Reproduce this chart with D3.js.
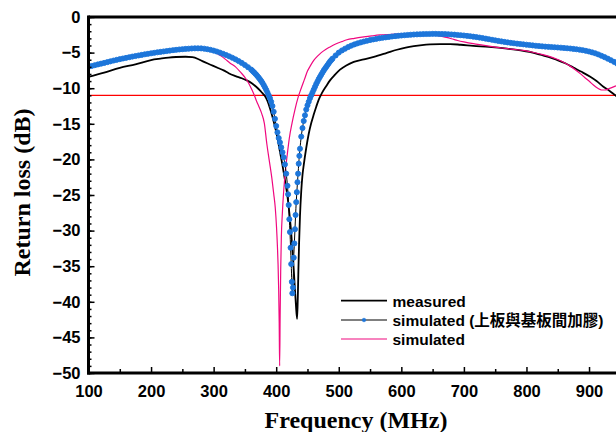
<!DOCTYPE html>
<html><head><meta charset="utf-8">
<script src="https://cdn.jsdelivr.net/npm/d3@7"></script>
<style>body{margin:0;background:#fff}svg{display:block}</style>
</head><body><svg id="c" width="616" height="432"></svg>
<script>
// ---------- data ----------
const xTickValues = [100,200,300,400,500,600,700,800,900];
const xMinorTicks = [150,250,350,450,550,650,750,850,950];
const yTickValues = [0,-5,-10,-15,-20,-25,-30,-35,-40,-45,-50];
const yMinorTicks = d3.range(0,-51,-1);
const refLineDb = -11;
const legendLabels = ["measured","simulated (上板與基板間加膠)","simulated"];
const axisTitles = {x:"Frequency (MHz)", y:"Return loss (dB)"};

const measured = [[100,-8.4],[125,-7.8],[150,-7.15],[175,-6.65],[200,-6.05],[215,-5.85],[228,-5.7],[240,-5.62],[255,-5.58],[266,-5.65],[275,-5.9],[282,-6.2],[295,-6.7],[308,-7.2],[316,-7.5],[324,-7.9],[335,-8.3],[345,-8.6],[353,-8.9],[361,-9.3],[368,-9.8],[374,-10.3],[378,-10.7],[382,-11.1],[386,-11.8],[390,-12.8],[394,-14.0],[398,-15.4],[402,-17.0],[406,-18.9],[410,-20.8],[414,-22.9],[418,-25.2],[421,-27.5],[424,-30.3],[427,-34.0],[429.5,-37.6],[431.5,-40.4],[433.4,-42.4],[434.5,-39.5],[435.5,-35.5],[436.5,-32.0],[438,-28.0],[440,-24.5],[442,-22.2],[444,-20.8],[448,-18.4],[452,-16.4],[456,-14.9],[460,-13.7],[464,-12.6],[468,-11.6],[473,-10.7],[480,-9.7],[486,-8.9],[494,-8.1],[502,-7.4],[512,-6.8],[524,-6.3],[540,-5.95],[556,-5.6],[575,-5.1],[593,-4.6],[607,-4.3],[620,-4.1],[633,-3.95],[646,-3.85],[662,-3.8],[678,-3.8],[695,-3.9],[715,-4.05],[740,-4.2],[769,-4.45],[795,-4.75],[810,-5.0],[822,-5.3],[835,-5.6],[848,-6.0],[862,-6.5],[875,-7.1],[888,-7.7],[902,-8.4],[912,-9.0],[923,-9.8],[933,-10.4],[942,-11.0],[950,-11.5]];

const simulatedGlue = [[100,-7.00],[105,-6.88],[110,-6.77],[115,-6.66],[120,-6.55],[125,-6.45],[130,-6.34],[135,-6.23],[140,-6.12],[145,-6.02],[150,-5.92],[155,-5.83],[160,-5.74],[165,-5.65],[170,-5.56],[175,-5.48],[180,-5.40],[185,-5.32],[190,-5.24],[195,-5.17],[200,-5.10],[205,-5.03],[210,-4.96],[215,-4.90],[220,-4.84],[225,-4.78],[230,-4.72],[235,-4.66],[240,-4.61],[245,-4.56],[250,-4.52],[255,-4.48],[260,-4.45],[265,-4.42],[270,-4.40],[275,-4.40],[280,-4.41],[285,-4.45],[290,-4.52],[295,-4.61],[300,-4.72],[305,-4.85],[310,-5.00],[315,-5.16],[320,-5.34],[325,-5.53],[330,-5.73],[335,-5.95],[340,-6.19],[345,-6.45],[350,-6.74],[355,-7.05],[360,-7.38],[362,-7.55],[364,-7.72],[366,-7.90],[368,-8.09],[370,-8.30],[372,-8.51],[374,-8.74],[376,-8.98],[378,-9.25],[380,-9.55],[382,-9.88],[384,-10.22],[386,-10.6],[388,-11.0],[390,-11.4],[392,-11.9],[394,-12.5],[396,-13.3],[398,-14.3],[400,-15.3],[402,-16.2],[404,-17.0],[406,-17.6],[408,-18.3],[410,-19.0],[412,-19.7],[414,-20.7],[416,-22.0],[418,-23.7],[419,-24.9],[420,-26.4],[421,-28.4],[422,-30.2],[423,-32.4],[424,-34.7],[425,-37.2],[425.8,-38.8],[426.8,-38.0],[428,-33.8],[429,-31.8],[430,-29.8],[431,-27.8],[432,-26.0],[433,-24.6],[434,-23.2],[435,-22.0],[436,-20.6],[437,-19.5],[438,-18.5],[440,-16.8],[442,-15.6],[444,-14.6],[446,-13.8],[448,-13.0],[450,-12.4],[452,-11.9],[454,-11.4],[456,-11.0],[458,-10.6],[460,-10.2],[462,-9.8],[464,-9.4],[466,-9.05],[468,-8.7],[470,-8.4],[472,-8.1],[474,-7.8],[476,-7.5],[478,-7.25],[480,-7.0],[482,-6.75],[484,-6.5],[486,-6.25],[488,-6.05],[490,-5.85],[495,-5.4],[500,-5.0],[505,-4.7],[510,-4.45],[515,-4.22],[520,-4.02],[525,-3.85],[530,-3.7],[535,-3.57],[540,-3.45],[545,-3.34],[550,-3.24],[555,-3.15],[560,-3.07],[565,-2.99],[570,-2.92],[575,-2.86],[580,-2.8],[585,-2.74],[590,-2.69],[595,-2.64],[600,-2.6],[605,-2.56],[610,-2.52],[615,-2.49],[620,-2.46],[625,-2.44],[630,-2.42],[635,-2.4],[640,-2.39],[645,-2.38],[650,-2.37],[655,-2.37],[660,-2.38],[665,-2.39],[670,-2.4],[675,-2.42],[680,-2.45],[685,-2.48],[690,-2.52],[695,-2.56],[700,-2.6],[705,-2.65],[710,-2.7],[715,-2.76],[720,-2.82],[725,-2.89],[730,-2.96],[735,-3.04],[740,-3.12],[745,-3.2],[750,-3.28],[755,-3.36],[760,-3.43],[765,-3.5],[770,-3.57],[775,-3.63],[780,-3.69],[785,-3.74],[790,-3.79],[795,-3.84],[800,-3.89],[805,-3.94],[810,-3.99],[815,-4.04],[820,-4.08],[825,-4.12],[830,-4.16],[835,-4.19],[840,-4.22],[845,-4.25],[850,-4.28],[855,-4.31],[860,-4.35],[865,-4.39],[870,-4.43],[875,-4.48],[880,-4.53],[885,-4.59],[890,-4.66],[895,-4.75],[900,-4.85],[905,-4.97],[910,-5.1],[915,-5.26],[920,-5.45],[925,-5.64],[930,-5.85],[935,-6.07],[940,-6.3],[945,-6.55],[950,-6.8]];

const simulated = [[100,-7.0],[120,-6.55],[140,-6.12],[160,-5.74],[180,-5.40],[200,-5.10],[220,-4.84],[240,-4.61],[260,-4.45],[280,-4.42],[290,-4.52],[300,-4.85],[308,-5.25],[314,-5.6],[319,-5.95],[326,-6.45],[335,-7.0],[343,-7.75],[351,-8.6],[356,-9.3],[361,-10.2],[365,-11.0],[369,-11.9],[373,-12.7],[377,-13.6],[381,-14.9],[385,-17.8],[389,-20.2],[393,-22.6],[396,-24.8],[398.5,-26.8],[400.5,-29.5],[402,-32.3],[403,-34.8],[404,-38.5],[404.8,-43.0],[405.5,-49.0],[406.3,-42.0],[407.2,-35.5],[408.2,-31.0],[410,-27.3],[412,-24.4],[414.5,-21.8],[417.3,-19.6],[421,-17.0],[425.3,-14.9],[430,-13.0],[435,-11.3],[440,-10.0],[445,-8.8],[450,-7.6],[455,-6.8],[460,-6.1],[466,-5.5],[472,-5.0],[479,-4.55],[486,-4.2],[495,-3.8],[505,-3.45],[513,-3.2],[525,-3.0],[540,-2.8],[553,-2.65],[566,-2.52],[585,-2.42],[600,-2.38],[620,-2.35],[640,-2.4],[655,-2.55],[668,-2.8],[680,-3.05],[690,-3.3],[700,-3.5],[715,-3.75],[730,-3.95],[745,-4.15],[760,-4.35],[775,-4.5],[785,-4.6],[795,-4.7],[810,-4.95],[822,-5.2],[835,-5.5],[848,-5.9],[860,-6.4],[870,-6.9],[878,-7.4],[886,-7.95],[893,-8.5],[900,-9.0],[907,-9.55],[914,-10.0],[920,-10.25],[926,-10.25],[932,-10.05],[938,-9.85],[945,-9.6],[950,-9.45]];

// ---------- layout ----------
const svg = d3.select("#c");
const L = 88.5, T = 17, B = 373, R = 651.6;
const x = d3.scaleLinear().domain([100,1000]).range([L, R]);
const y = d3.scaleLinear().domain([-50,0]).range([B, T]);
const tickFont = "'Liberation Sans', Arial, sans-serif";
const blue = "#1d76da", pink = "#f0087f";

svg.append("defs").append("clipPath").attr("id","clip")
  .append("rect").attr("x",L).attr("y",T).attr("width",R-L).attr("height",B-T);

// reference line
svg.append("line").attr("x1",x(100)).attr("x2",x(1000)).attr("y1",y(refLineDb)).attr("y2",y(refLineDb))
  .attr("stroke","#ff0000").attr("stroke-width",1.2);

const line = d3.line().x(d=>x(d[0])).y(d=>y(d[1])).curve(d3.curveMonotoneX);
const plot = svg.append("g").attr("clip-path","url(#clip)");
plot.append("path").datum(measured).attr("d",line).attr("fill","none").attr("stroke","#000").attr("stroke-width",1.8);
plot.append("path").datum(simulated).attr("d",line).attr("fill","none").attr("stroke",pink).attr("stroke-width",1.2);
plot.append("path").datum(simulatedGlue).attr("d",line).attr("fill","none").attr("stroke","#000").attr("stroke-width",1);
plot.append("g").selectAll("circle").data(simulatedGlue).join("circle")
  .attr("cx",d=>x(d[0])).attr("cy",d=>y(d[1])).attr("r",2.55)
  .attr("fill",blue).attr("stroke",blue).attr("stroke-width",0.9);

// axes
const yMinor = d3.axisLeft(y).tickValues(yMinorTicks).tickSize(-3).tickFormat("");
const yMajor = d3.axisLeft(y).tickValues(yTickValues).tickSize(-6).tickPadding(8).tickFormat(d3.format("d"));
const xMinor = d3.axisBottom(x).tickValues(xMinorTicks).tickSize(-4).tickFormat("");
const xMajor = d3.axisBottom(x).tickValues(xTickValues).tickSize(-6).tickPadding(12).tickFormat(d3.format("d"));

function styleAxis(g){
  g.select(".domain").remove();
  g.selectAll("line").attr("stroke","#000").attr("stroke-width",1.5);
  g.selectAll("text").attr("font-family",tickFont).attr("font-weight","bold").attr("font-size","16.5px").attr("fill","#000");
}
svg.append("g").attr("transform",`translate(${L},0)`).call(yMinor).call(styleAxis);
svg.append("g").attr("transform",`translate(${L},0)`).call(yMajor).call(styleAxis);
svg.append("g").attr("transform",`translate(0,${B})`).call(xMinor).call(styleAxis);
svg.append("g").attr("transform",`translate(0,${B})`).call(xMajor).call(styleAxis);

// frame
svg.append("line").attr("x1",L).attr("x2",R).attr("y1",T).attr("y2",T).attr("stroke","#000").attr("stroke-width",3);
svg.append("line").attr("x1",L).attr("x2",L).attr("y1",T-1.5).attr("y2",B+1.5).attr("stroke","#000").attr("stroke-width",3);
svg.append("line").attr("x1",L-1.5).attr("x2",R).attr("y1",B).attr("y2",B).attr("stroke","#000").attr("stroke-width",3);

// axis titles
svg.append("text").attr("x",356).attr("y",428).attr("text-anchor","middle")
  .attr("font-family","'Liberation Serif','Times New Roman',serif").attr("font-weight","bold").attr("font-size","24px")
  .text(axisTitles.x);
svg.append("text").attr("transform","translate(30,192.5) rotate(-90)").attr("text-anchor","middle")
  .attr("font-family","'Liberation Serif','Times New Roman',serif").attr("font-weight","bold").attr("font-size","24px")
  .text(axisTitles.y);

// legend
const legY = [300.7, 320, 339];
const lg = svg.append("g");
const styles = [
  {stroke:"#000", w:1.8, marker:false},
  {stroke:"#000", w:1, marker:true},
  {stroke:pink, w:1.2, marker:false}
];
legendLabels.forEach((lab,i)=>{
  lg.append("line").attr("x1",341).attr("x2",387).attr("y1",legY[i]).attr("y2",legY[i])
    .attr("stroke",styles[i].stroke).attr("stroke-width",styles[i].w);
  if(styles[i].marker){
    lg.append("circle").attr("cx",364).attr("cy",legY[i]).attr("r",1.8).attr("fill",blue).attr("stroke",blue).attr("stroke-width",0.6);
  }
  lg.append("text").attr("x",392.5).attr("y",legY[i]+5.8)
    .attr("font-family","'Liberation Sans', Arial, 'Noto Sans CJK TC', sans-serif").attr("font-weight","bold").attr("font-size","15.5px")
    .text(lab);
});
</script>
</body></html>
